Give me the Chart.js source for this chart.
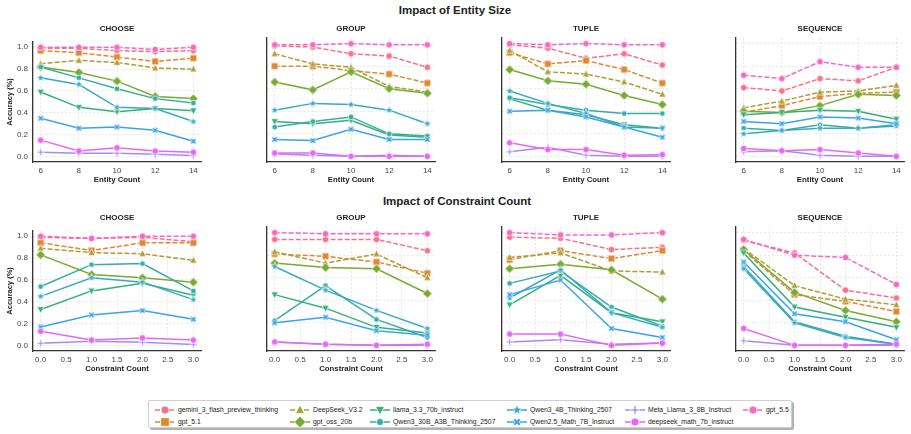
<!DOCTYPE html>
<html>
<head>
<meta charset="utf-8">
<script src="https://cdn.jsdelivr.net/npm/chart.js@4.4.1/dist/chart.umd.min.js"></script>
<style>
  html, body { margin: 0; padding: 0; background: #fff; }
  body { width: 911px; height: 434px; position: relative; overflow: hidden;
         font-family: "Liberation Sans", Arial, sans-serif; color: #222; }
  canvas { position: absolute; }
  .title { position: absolute; transform: translate(-50%, -50%); font-weight: bold; white-space: nowrap; }
  .main { font-size: 11.5px; }
  .sub { font-size: 8px; }
  #legend { position: absolute; left: 148px; top: 400px; width: 644px; height: 28px;
            border: 1px solid #cfcfcf; border-radius: 2px; background: #fff;
            box-shadow: 2px 2px 0 rgba(0,0,0,0.3); box-sizing: border-box; }
  .entry { position: absolute; height: 12px; font-size: 6.8px; line-height: 12px; white-space: nowrap; }
  .entry canvas { position: absolute; left: 0; top: 0; }
  .entry span { position: absolute; left: 23px; top: 0; }
</style>
</head>
<body>
<div class="title main" style="left:455px; top:10px;">Impact of Entity Size</div>
<div class="title main" style="left:457px; top:201px;">Impact of Constraint Count</div>
<div id="legend"></div>
<script>
const models = [
    'gemini_3_flash_preview_thinking',
    'gpt_5.1',
    'DeepSeek_V3.2',
    'gpt_oss_20b',
    'llama_3.3_70b_instruct',
    'Qwen3_30B_A3B_Thinking_2507',
    'Qwen3_4B_Thinking_2507',
    'Qwen2.5_Math_7B_Instruct',
    'Meta_Llama_3_8B_Instruct',
    'deepseek_math_7b_instruct',
    'gpt_5.5'
];
const tasks = ['CHOOSE', 'GROUP', 'TUPLE', 'SEQUENCE'];
const entityCounts = [6, 8, 10, 12, 14];
const constraintCounts = [0, 1, 2, 3];
const entityTicks = [6, 8, 10, 12, 14];
const constraintTicks = [0, 0.5, 1, 1.5, 2, 2.5, 3];
const accuracyTicks = [0, 0.2, 0.4, 0.6, 0.8, 1.0];

// rows follow the order of models
const entityChoose = [
    [0.99, 0.99, 0.97, 0.96, 0.97],
    [0.97, 0.95, 0.91, 0.87, 0.90],
    [0.85, 0.88, 0.86, 0.81, 0.80],
    [0.82, 0.77, 0.69, 0.55, 0.53],
    [0.59, 0.45, 0.41, 0.44, 0.42],
    [0.82, 0.72, 0.62, 0.53, 0.49],
    [0.72, 0.66, 0.45, 0.44, 0.32],
    [0.35, 0.26, 0.27, 0.24, 0.14],
    [0.04, 0.03, 0.03, 0.02, 0.01],
    [0.15, 0.05, 0.08, 0.05, 0.04],
    [1.00, 1.00, 1.00, 0.98, 1.00]
];
const entityGroup = [
    [0.98, 0.97, 0.91, 0.89, 0.79],
    [0.80, 0.80, 0.76, 0.73, 0.65],
    [0.91, 0.82, 0.79, 0.62, 0.57],
    [0.66, 0.59, 0.75, 0.60, 0.56],
    [0.31, 0.29, 0.32, 0.19, 0.17],
    [0.26, 0.31, 0.35, 0.20, 0.18],
    [0.41, 0.47, 0.46, 0.41, 0.29],
    [0.15, 0.14, 0.24, 0.15, 0.15],
    [0.02, 0.01, 0.00, 0.01, 0.00],
    [0.03, 0.03, 0.00, 0.00, 0.00],
    [0.99, 0.99, 1.00, 0.99, 0.99]
];
const entityTuple = [
    [0.99, 0.96, 0.87, 0.91, 0.81],
    [0.92, 0.82, 0.85, 0.77, 0.65],
    [0.94, 0.75, 0.73, 0.66, 0.55],
    [0.77, 0.67, 0.64, 0.54, 0.46],
    [0.51, 0.41, 0.37, 0.28, 0.25],
    [0.52, 0.46, 0.41, 0.38, 0.38],
    [0.58, 0.47, 0.38, 0.26, 0.25],
    [0.40, 0.41, 0.35, 0.26, 0.17],
    [0.04, 0.08, 0.01, 0.00, 0.00],
    [0.12, 0.06, 0.06, 0.01, 0.015],
    [1.00, 0.99, 1.00, 0.99, 0.99]
];
const entitySequence = [
    [0.61, 0.58, 0.69, 0.67, 0.79],
    [0.39, 0.45, 0.53, 0.56, 0.57],
    [0.43, 0.49, 0.57, 0.58, 0.63],
    [0.40, 0.39, 0.45, 0.55, 0.54],
    [0.37, 0.39, 0.41, 0.40, 0.33],
    [0.25, 0.23, 0.28, 0.25, 0.28],
    [0.20, 0.23, 0.25, 0.25, 0.27],
    [0.31, 0.29, 0.35, 0.34, 0.29],
    [0.04, 0.05, 0.01, 0.00, 0.00],
    [0.07, 0.05, 0.06, 0.03, 0.00],
    [0.72, 0.69, 0.84, 0.79, 0.79]
];
const constraintChoose = [
    [0.99, 0.98, 0.99, 0.95],
    [0.94, 0.87, 0.94, 0.94],
    [0.89, 0.85, 0.84, 0.78],
    [0.83, 0.65, 0.62, 0.58],
    [0.33, 0.50, 0.57, 0.46],
    [0.54, 0.74, 0.75, 0.50],
    [0.45, 0.62, 0.58, 0.42],
    [0.17, 0.28, 0.32, 0.24],
    [0.02, 0.04, 0.03, 0.01],
    [0.13, 0.05, 0.07, 0.05],
    [1.00, 0.98, 1.00, 1.00]
];
const constraintGroup = [
    [0.94, 0.94, 0.94, 0.84],
    [0.81, 0.79, 0.74, 0.64],
    [0.83, 0.73, 0.81, 0.60],
    [0.73, 0.69, 0.68, 0.46],
    [0.45, 0.33, 0.16, 0.11],
    [0.22, 0.53, 0.23, 0.07],
    [0.70, 0.49, 0.31, 0.15],
    [0.20, 0.25, 0.13, 0.09],
    [0.03, 0.01, 0.00, 0.00],
    [0.03, 0.01, 0.00, 0.01],
    [1.00, 0.99, 0.99, 0.99]
];
const constraintTuple = [
    [0.96, 0.95, 0.85, 0.87],
    [0.76, 0.84, 0.77, 0.84],
    [0.78, 0.82, 0.66, 0.65],
    [0.68, 0.72, 0.67, 0.41],
    [0.36, 0.62, 0.29, 0.21],
    [0.55, 0.66, 0.34, 0.17],
    [0.42, 0.67, 0.29, 0.16],
    [0.45, 0.58, 0.15, 0.07],
    [0.03, 0.05, 0.01, 0.02],
    [0.10, 0.10, 0.00, 0.02],
    [1.00, 0.98, 0.98, 1.00]
];
const constraintSequence = [
    [0.93, 0.82, 0.49, 0.42],
    [0.84, 0.45, 0.39, 0.30],
    [0.86, 0.53, 0.41, 0.36],
    [0.85, 0.47, 0.31, 0.21],
    [0.82, 0.34, 0.25, 0.16],
    [0.70, 0.21, 0.08, 0.01],
    [0.68, 0.20, 0.07, 0.01],
    [0.74, 0.28, 0.21, 0.05],
    [0.04, 0.00, 0.00, 0.00],
    [0.15, 0.00, 0.00, 0.01],
    [0.94, 0.80, 0.78, 0.54]
];

const colours = [
    '#f77189', '#dc8932', '#ae9d31', '#77ab31', '#33b07a', '#36ada4',
    '#38a9c5', '#3ba3ec', '#a48cf4', '#e866f4', '#f668c2'
];
const markers = ['circle', 'square', 'triangle', 'diamond', 'triangleDown', 'circle',
                 'star', 'x', 'plus', 'circle', 'circle'];
const markerSizes = [3.2, 3.4, 3.4, 4.0, 3.4, 2.8, 3.8, 3.3, 3.4, 3.2, 3.2];
const dashed = [true, true, true, false, false, false, false, false, false, false, true];

const FONT = '"Liberation Sans", Arial, sans-serif';
Chart.defaults.font.family = FONT;

function drawMarker(ctx, kind, cx, cy, r, colour) {
    ctx.save();
    ctx.fillStyle = colour;
    ctx.strokeStyle = '#fff';
    ctx.lineWidth = 0.7;
    ctx.setLineDash([]);
    ctx.beginPath();
    if (kind === 'circle') {
        ctx.arc(cx, cy, r, 0, Math.PI * 2);
    } else if (kind === 'square') {
        ctx.rect(cx - r, cy - r, r * 2, r * 2);
    } else if (kind === 'triangle' || kind === 'triangleDown') {
        const s = kind === 'triangle' ? 1 : -1;
        ctx.moveTo(cx, cy - s * r * 1.15);
        ctx.lineTo(cx + r * 1.05, cy + s * r * 0.8);
        ctx.lineTo(cx - r * 1.05, cy + s * r * 0.8);
        ctx.closePath();
    } else if (kind === 'diamond') {
        ctx.moveTo(cx, cy - r * 1.15);
        ctx.lineTo(cx + r * 1.15, cy);
        ctx.lineTo(cx, cy + r * 1.15);
        ctx.lineTo(cx - r * 1.15, cy);
        ctx.closePath();
    } else if (kind === 'star') {
        for (let k = 0; k < 10; k++) {
            const a = -Math.PI / 2 + k * Math.PI / 5;
            const rad = k % 2 ? r * 0.48 : r * 1.15;
            const px = cx + rad * Math.cos(a), py = cy + rad * Math.sin(a);
            if (k === 0) ctx.moveTo(px, py); else ctx.lineTo(px, py);
        }
        ctx.closePath();
    } else {
        const a = kind === 'x' ? r * 0.32 : r * 0.24;
        const pts = [[-a, -r], [a, -r], [a, -a], [r, -a], [r, a], [a, a],
                     [a, r], [-a, r], [-a, a], [-r, a], [-r, -a], [-a, -a]];
        const rot = kind === 'x' ? Math.PI / 4 : 0;
        pts.forEach((p, k) => {
            const px = cx + p[0] * Math.cos(rot) - p[1] * Math.sin(rot);
            const py = cy + p[0] * Math.sin(rot) + p[1] * Math.cos(rot);
            if (k === 0) ctx.moveTo(px, py); else ctx.lineTo(px, py);
        });
        ctx.closePath();
    }
    ctx.fill();
    ctx.stroke();
    ctx.restore();
}

function markerImage(i) {
    const r = markerSizes[i];
    const size = Math.ceil(r * 2.6 + 2);
    const c = document.createElement('canvas');
    c.width = size;
    c.height = size;
    drawMarker(c.getContext('2d'), markers[i], size / 2, size / 2, r, colours[i]);
    return c;
}
const pointImages = models.map((m, i) => markerImage(i));

const plotLefts = [33, 267, 502, 736];
const rowTops = [38, 227];
const plotWidth = 168;
const plotHeight = 124;
const padL = 33, padT = 6, padR = 6, padB = 26;

function makePanel(row, col, xs, xRange, xTicks, xTitle, rows) {
    const c = document.createElement('canvas');
    c.width = padL + plotWidth + padR;
    c.height = padT + plotHeight + padB;
    c.style.left = (plotLefts[col] - padL) + 'px';
    c.style.top = (rowTops[row] - padT) + 'px';
    document.body.appendChild(c);

    const t = document.createElement('div');
    t.className = 'title sub';
    t.style.left = (plotLefts[col] + plotWidth / 2) + 'px';
    t.style.top = (rowTops[row] - 10.5) + 'px';
    t.textContent = tasks[col];
    document.body.appendChild(t);

    const datasets = rows.map((vals, i) => ({
        label: models[i],
        data: xs.map((x, j) => ({x: x, y: vals[j]})),
        borderColor: colours[i],
        backgroundColor: colours[i],
        borderWidth: 1.5,
        borderDash: dashed[i] ? [5, 2] : [],
        pointStyle: pointImages[i],
        pointRadius: 3,
        tension: 0,
        order: models.length - i
    }));
    const decimals = row === 1;
    new Chart(c, {
        type: 'line',
        data: {datasets: datasets},
        options: {
            responsive: false,
            animation: false,
            events: [],
            layout: {padding: {left: 0, top: padT, right: padR, bottom: 0}},
            plugins: {legend: {display: false}, tooltip: {enabled: false}},
            scales: {
                x: {
                    type: 'linear',
                    min: xRange[0],
                    max: xRange[1],
                    afterBuildTicks: (a) => { a.ticks = xTicks.map(v => ({value: v})); },
                    afterFit: (a) => { a.height = padB; },
                    grid: {color: '#e2e2e2', lineWidth: 0.8, drawTicks: false},
                    border: {color: '#333', width: 1.3, dash: [2, 2]},
                    ticks: {
                        padding: 3.5, color: '#444', font: {size: 8},
                        maxRotation: 0, autoSkip: false,
                        callback: (v) => decimals ? v.toFixed(1) : String(v)
                    },
                    title: {
                        display: true, text: xTitle, color: '#222',
                        font: {size: 7.8, weight: 'bold'},
                        padding: {top: 0, bottom: 3.5}
                    }
                },
                y: {
                    min: -0.05,
                    max: 1.05,
                    afterBuildTicks: (a) => { a.ticks = accuracyTicks.map(v => ({value: v})); },
                    afterFit: (a) => { a.width = padL; },
                    grid: {color: '#e2e2e2', lineWidth: 0.8, drawTicks: false},
                    border: {color: '#333', width: 1.3, dash: [2, 2]},
                    ticks: {
                        display: col === 0, padding: 5, color: '#444', font: {size: 8},
                        callback: (v) => v.toFixed(1)
                    },
                    title: {
                        display: col === 0, text: 'Accuracy (%)', color: '#222',
                        font: {size: 7.5, weight: 'bold'},
                        padding: {top: 5.5, bottom: 0}
                    }
                }
            }
        }
    });
}

const entityPanels = [entityChoose, entityGroup, entityTuple, entitySequence];
const constraintPanels = [constraintChoose, constraintGroup, constraintTuple, constraintSequence];
entityPanels.forEach((rows, col) =>
    makePanel(0, col, entityCounts, [5.6, 14.4], entityTicks, 'Entity Count', rows));
constraintPanels.forEach((rows, col) =>
    makePanel(1, col, constraintCounts, [-0.15, 3.15], constraintTicks, 'Constraint Count', rows));

// legend, two rows, filled column by column
const legendCols = [6, 141, 221, 358, 476, 594];
const legendRows = [2.5, 14.5];
const legend = document.getElementById('legend');
models.forEach((name, i) => {
    const e = document.createElement('div');
    e.className = 'entry';
    e.style.left = legendCols[Math.floor(i / 2)] + 'px';
    e.style.top = legendRows[i % 2] + 'px';
    const c = document.createElement('canvas');
    c.width = 20;
    c.height = 12;
    const ctx = c.getContext('2d');
    ctx.strokeStyle = colours[i];
    ctx.lineWidth = 1.5;
    ctx.setLineDash(dashed[i] ? [5, 2] : []);
    ctx.beginPath();
    ctx.moveTo(0, 6);
    ctx.lineTo(20, 6);
    ctx.stroke();
    drawMarker(ctx, markers[i], 10, 6, markerSizes[i] * 1.25, colours[i]);
    const s = document.createElement('span');
    s.textContent = name;
    e.appendChild(c);
    e.appendChild(s);
    legend.appendChild(e);
});
</script>
</body>
</html>
